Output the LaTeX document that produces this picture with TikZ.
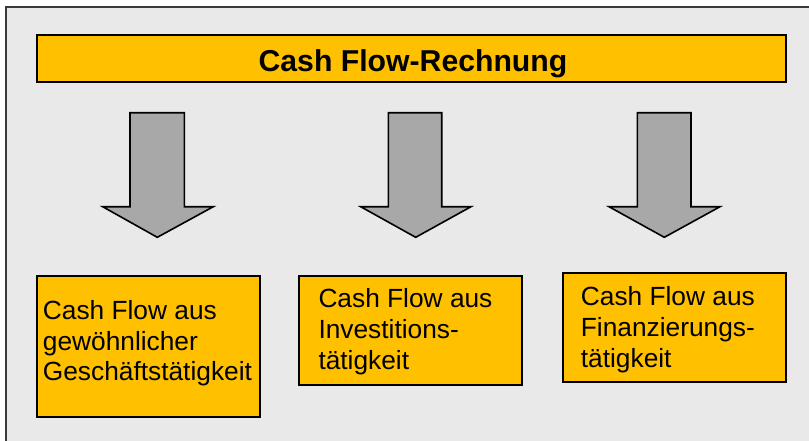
\documentclass[tikz,border=0pt]{standalone}
\usepackage{fontspec}
\setmainfont{Liberation Sans}
\definecolor{bgc}{HTML}{E9E9E9}
\definecolor{yel}{HTML}{FFC000}
\definecolor{arrg}{HTML}{A8A8A8}
\definecolor{framec}{HTML}{3A3A3A}
\tikzset{
  ybox/.style={draw=black, line width=1.8pt, fill=yel, inner sep=0pt},
  bigarrow/.style={draw=black, line width=1.6pt, fill=arrg, line join=miter},
  boxtext/.style={anchor=base west, align=left, inner sep=0pt, font=\fontsize{26.3}{30.7}\selectfont}
}
\begin{document}
\begin{tikzpicture}[x=1pt,y=-1pt]
\useasboundingbox (0,0) rectangle (809,440);
\clip (0,0) rectangle (809,440);
\fill[white] (0,0) rectangle (809,440);
\draw[framec, line width=1.5pt, fill=bgc] (6,7) rectangle (830,460);
% title
\node[ybox, minimum width=749pt, minimum height=47pt] (title) at (411.2,58.5) {};
\node[anchor=base, inner sep=0pt, font=\bfseries\fontsize{30.2}{34}\selectfont] (titletext) at (413,71) {Cash Flow-Rechnung};
% arrows
\draw[bigarrow] (130,112.7) -- (184.3,112.7) -- (184.3,206.7) -- (213.3,206.7) -- (157.3,237.3) -- (102.7,206.7) -- (130,206.7) -- cycle;
\draw[bigarrow] (388.3,112.7) -- (441.7,112.7) -- (441.7,206.7) -- (471,206.7) -- (415.7,237.3) -- (360.7,206.7) -- (388.3,206.7) -- cycle;
\draw[bigarrow] (637.3,112.7) -- (691,112.7) -- (691,206.7) -- (720,206.7) -- (664.3,237.3) -- (609,206.7) -- (637.3,206.7) -- cycle;
% boxes
\node[ybox, minimum width=223.3pt, minimum height=141pt] (b1) at (148.35,346.2) {};
\node[ybox, minimum width=223pt, minimum height=109pt] (b2) at (410.8,330.5) {};
\node[ybox, minimum width=223.3pt, minimum height=109pt] (b3) at (674.35,327.8) {};
\node[boxtext] (t1) at (42.7,380.7) {Cash Flow aus\\gewöhnlicher\\Geschäftstätigkeit};
\node[boxtext] (t2) at (318.3,369) {Cash Flow aus\\Investitions-\\tätigkeit};
\node[boxtext] (t3) at (580.7,367.3) {Cash Flow aus\\Finanzierungs-\\tätigkeit};
\end{tikzpicture}
\end{document}
